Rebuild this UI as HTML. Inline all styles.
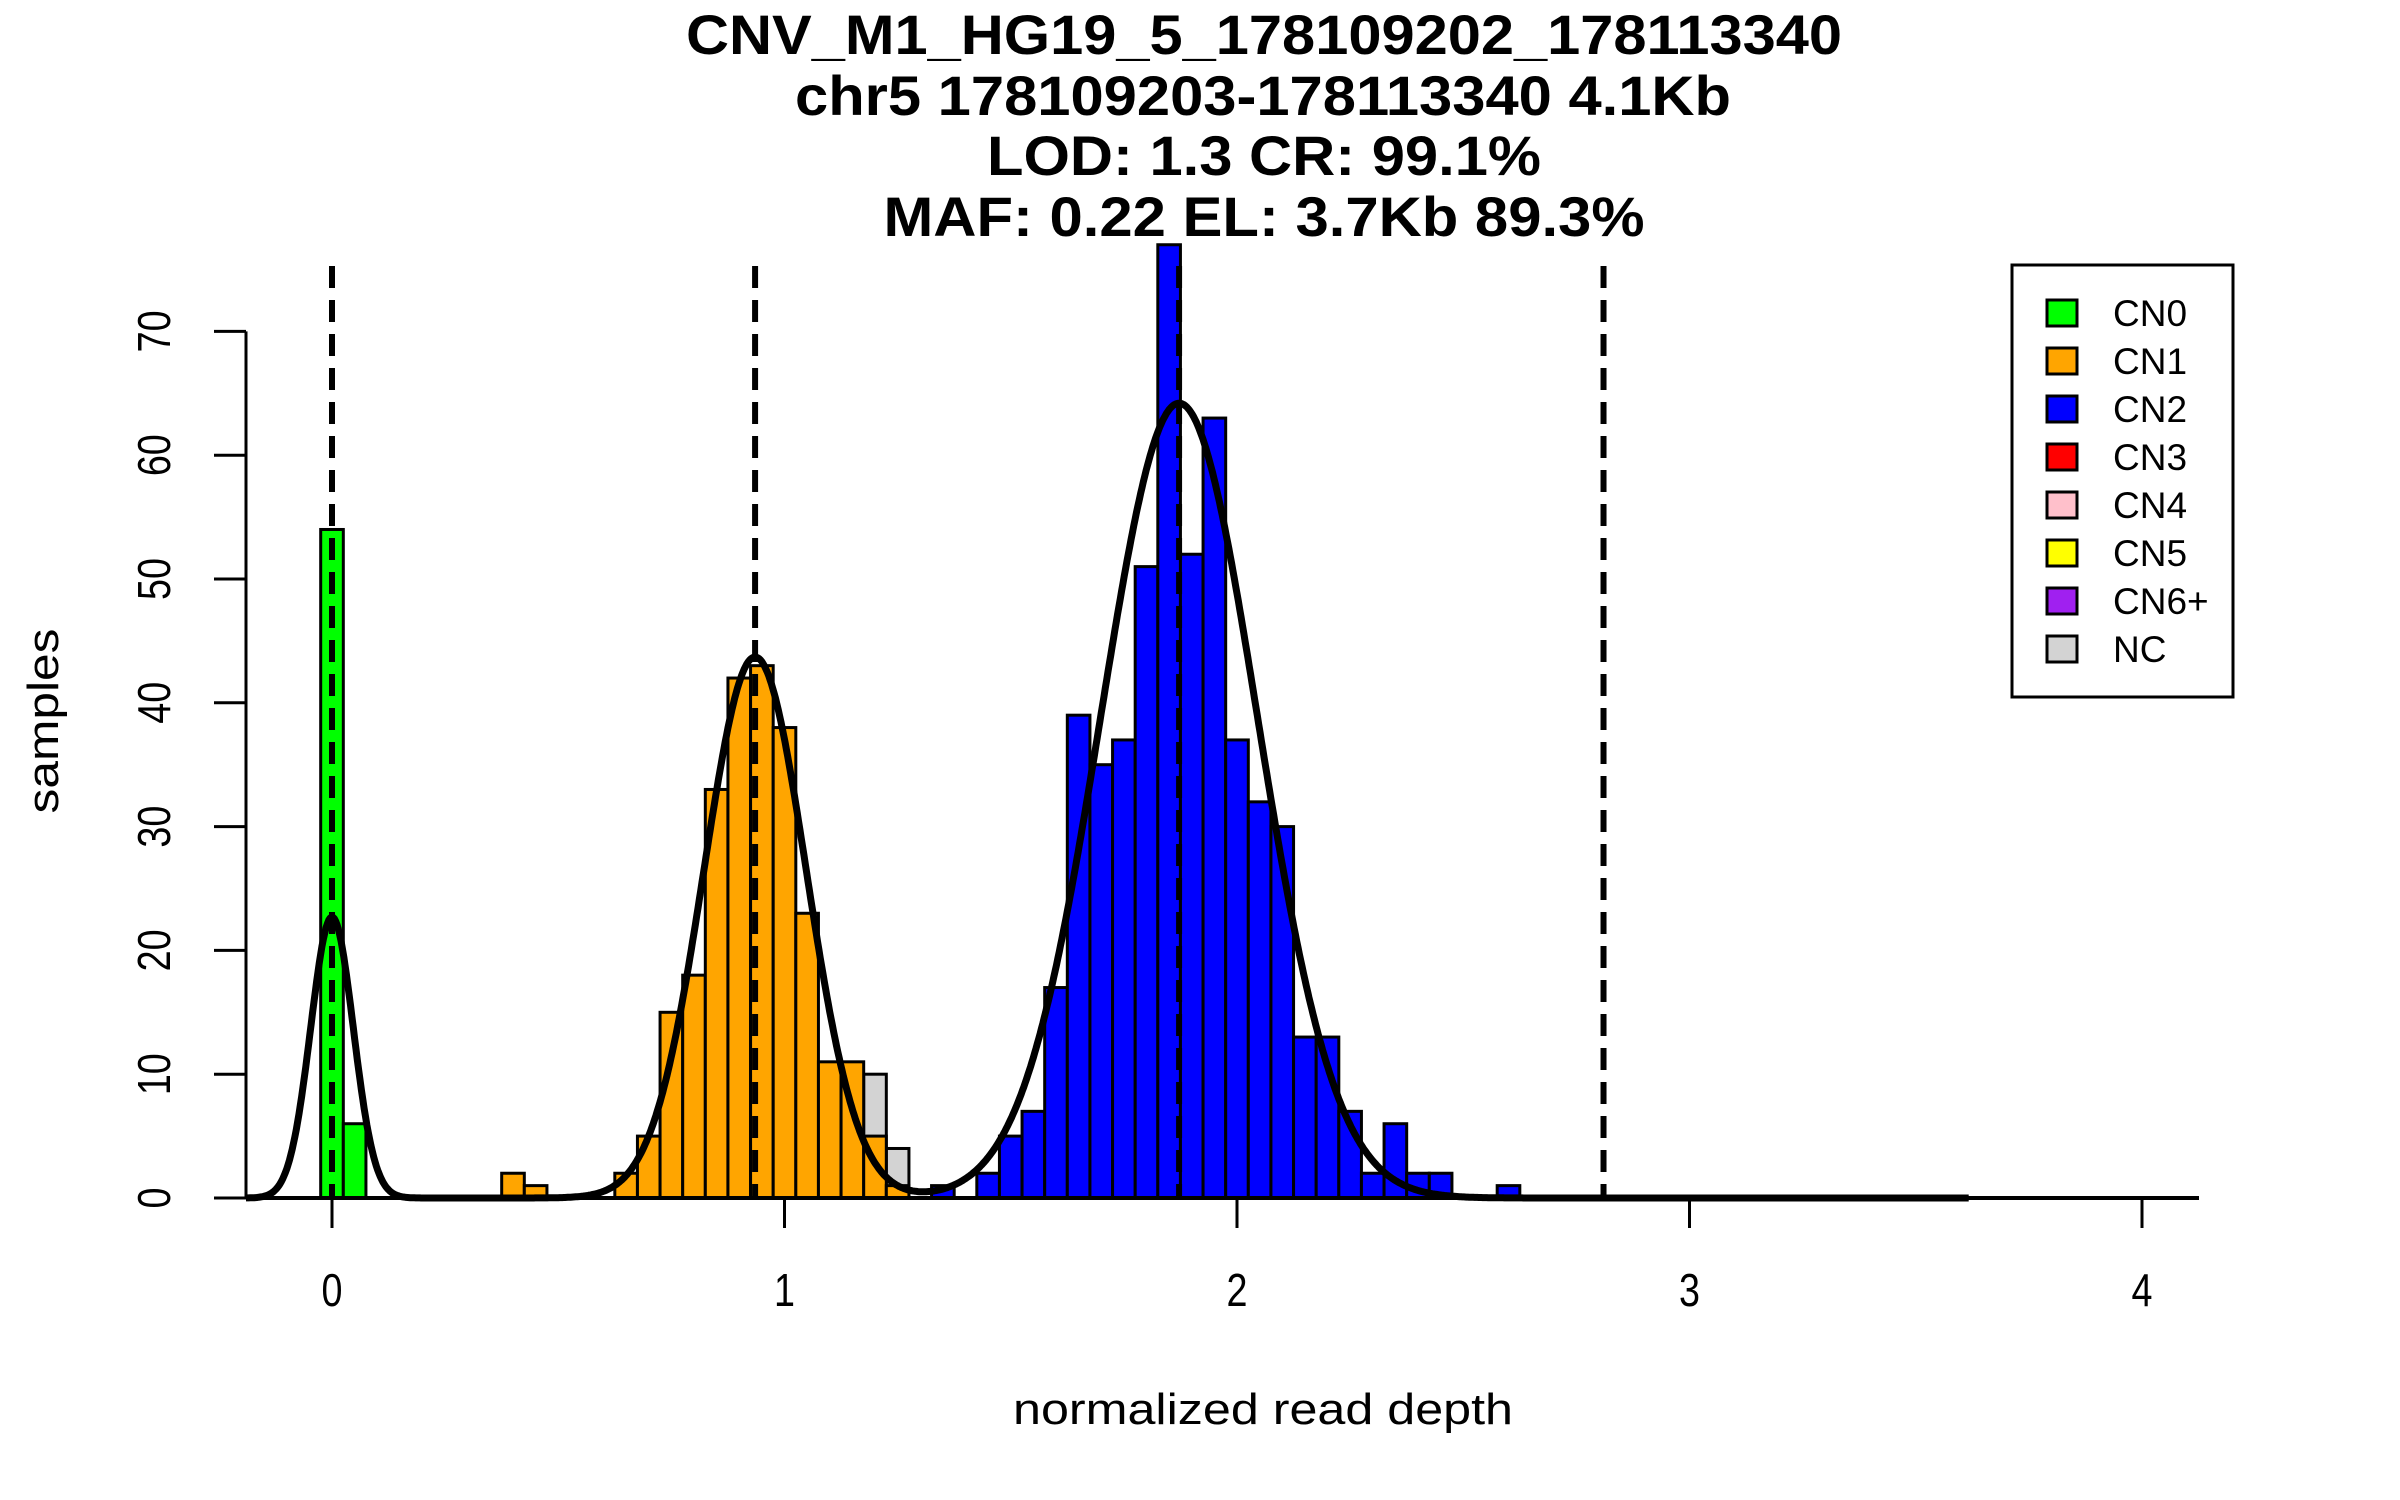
<!DOCTYPE html>
<html><head><meta charset="utf-8"><style>
html,body{margin:0;padding:0;background:#fff}
svg{display:block;font-family:"Liberation Sans",sans-serif}
</style></head><body>
<svg id="chart" xmlns="http://www.w3.org/2000/svg" width="2400" height="1500" viewBox="0 0 2400 1500">
<rect width="2400" height="1500" fill="#fff"/>
<g font-weight="bold" font-size="56" text-anchor="middle">
<text x="1264" y="54" textLength="1156" lengthAdjust="spacingAndGlyphs">CNV_M1_HG19_5_178109202_178113340</text>
<text x="1263" y="115" textLength="936" lengthAdjust="spacingAndGlyphs">chr5 178109203-178113340 4.1Kb</text>
<text x="1264" y="175" textLength="554" lengthAdjust="spacingAndGlyphs">LOD: 1.3 CR: 99.1%</text>
<text x="1264" y="236" textLength="761" lengthAdjust="spacingAndGlyphs">MAF: 0.22 EL: 3.7Kb 89.3%</text>
</g>
<g id="bars"></g>
<g id="dens"></g>
<g id="vlines"></g>
<g id="axes"></g>
<text x="1263" y="1424" font-size="44" text-anchor="middle" textLength="500" lengthAdjust="spacingAndGlyphs">normalized read depth</text>
<text transform="translate(58,721) rotate(-90)" font-size="44" text-anchor="middle" textLength="185" lengthAdjust="spacingAndGlyphs">samples</text>
<g id="legend"></g>
</svg>
<script>
// ---- data ----
const binWidth = 0.05;
const cn0Centers = [0, 0.05];
const cn0Counts = [54, 6];
const ncCenters = [1.20, 1.25];
const ncCounts = [10, 4];
const cn1Centers = [0.40, 0.45, 0.65, 0.70, 0.75, 0.80, 0.85, 0.90, 0.95, 1.00, 1.05, 1.10, 1.15, 1.20, 1.25];
const cn1Counts = [2, 1, 2, 5, 15, 18, 33, 42, 43, 38, 23, 11, 11, 5, 1];
const cn2Centers = [1.35, 1.45, 1.50, 1.55, 1.60, 1.65, 1.70, 1.75, 1.80, 1.85, 1.90, 1.95, 2.00, 2.05, 2.10, 2.15, 2.20, 2.25, 2.30, 2.35, 2.40, 2.45, 2.60];
const cn2Counts = [1, 2, 5, 7, 17, 39, 35, 37, 51, 77, 52, 63, 37, 32, 30, 13, 13, 7, 2, 6, 2, 2, 1];
const fitMeans = [0, 0.935, 1.872];
const fitSds = [0.047, 0.113, 0.173];
const fitPeaks = [22.7, 43.7, 64.2];
const cnLines = [0, 0.935, 1.872, 2.81];
const xTicks = [0, 1, 2, 3, 4];
const yTicks = [0, 10, 20, 30, 40, 50, 60, 70];
const legendLabels = ["CN0","CN1","CN2","CN3","CN4","CN5","CN6+","NC"];
const legendColors = ["#00ff00","#ffa500","#0000ff","#ff0000","#ffc0cb","#ffff00","#a020f0","#d3d3d3"];

// ---- scales ----
const X0 = 332, XU = 452.5, Y0 = 1198, YU = 12.38;
function sx(v){ return X0 + v*XU; }
function sy(v){ return Y0 - v*YU; }
const NS = "http://www.w3.org/2000/svg";
function mk(tag, attrs, parent){
  const e = document.createElementNS(NS, tag);
  for (const k in attrs) e.setAttribute(k, attrs[k]);
  parent.appendChild(e); return e;
}

const bars = document.getElementById('bars');
function drawBars(centers, counts, color, name){
  centers.forEach((c,i)=>{
    const r = mk('rect', {x: sx(c-binWidth/2), y: sy(counts[i]), width: binWidth*XU, height: counts[i]*YU, fill: color, stroke: '#000', 'stroke-width': 3}, bars);
    
    
  });
}
drawBars(ncCenters, ncCounts, '#d3d3d3', 'nc');
drawBars(cn0Centers, cn0Counts, '#00ff00', 'cn0');
drawBars(cn1Centers, cn1Counts, '#ffa500', 'cn1');
drawBars(cn2Centers, cn2Counts, '#0000ff', 'cn2');

// density curve
const dens = document.getElementById('dens');
let d = '';
for (let x = -0.19; x <= 3.62; x += 0.003){
  let y = 0;
  for (let k=0;k<fitMeans.length;k++){ const z=(x-fitMeans[k])/fitSds[k]; y += fitPeaks[k]*Math.exp(-0.5*z*z); }
  d += (d ? 'L' : 'M') + sx(x).toFixed(1) + ',' + sy(y).toFixed(1);
}
const p = mk('path', {d: d, fill: 'none', stroke: '#000', 'stroke-width': 7, 'stroke-linejoin': 'round'}, dens);



// dashed lines
const vl = document.getElementById('vlines');
cnLines.forEach(v=>{
  const l = mk('line', {x1: sx(v), x2: sx(v), y1: 266, y2: Y0, stroke: '#000', 'stroke-width': 6, 'stroke-dasharray': '22 12'}, vl);
  
  
});

// axes
const ax = document.getElementById('axes');
const xl = mk('line', {x1: 246, x2: 2199, y1: Y0, y2: Y0, stroke: '#000', 'stroke-width': 4}, ax);


xTicks.forEach(t=>{
  const tk = mk('line', {x1: sx(t), x2: sx(t), y1: Y0, y2: Y0+30, stroke: '#000', 'stroke-width': 3}, ax);
  
  
  const tx = mk('text', {transform: 'translate(' + sx(t) + ',1306) scale(0.82,1)', 'font-size': 46, 'text-anchor': 'middle'}, ax);
  tx.textContent = t;
  
  
});
const yl = mk('line', {x1: 246, x2: 246, y1: sy(70), y2: Y0, stroke: '#000', 'stroke-width': 3}, ax);


yTicks.forEach(t=>{
  const tk = mk('line', {x1: 214, x2: 246, y1: sy(t), y2: sy(t), stroke: '#000', 'stroke-width': 3}, ax);
  
  
  const tx = mk('text', {transform: 'translate(170,' + sy(t) + ') rotate(-90) scale(0.82,1)', 'font-size': 46, 'text-anchor': 'middle'}, ax);
  tx.textContent = t;
  
  
});

// legend
const lg = document.getElementById('legend');
const box = mk('rect', {x: 2012, y: 265, width: 221, height: 432, fill: '#fff', stroke: '#000', 'stroke-width': 3}, lg);


legendLabels.forEach((lab,i)=>{
  const cy = 313 + i*48;
  const sw = mk('rect', {x: 2047, y: cy-13, width: 30, height: 26, fill: legendColors[i], stroke: '#000', 'stroke-width': 3}, lg);
  
  
  const tx = mk('text', {x: 2113, y: cy+13, 'font-size': 37}, lg);
  tx.textContent = lab;
  
  
});
</script>
</body></html>
